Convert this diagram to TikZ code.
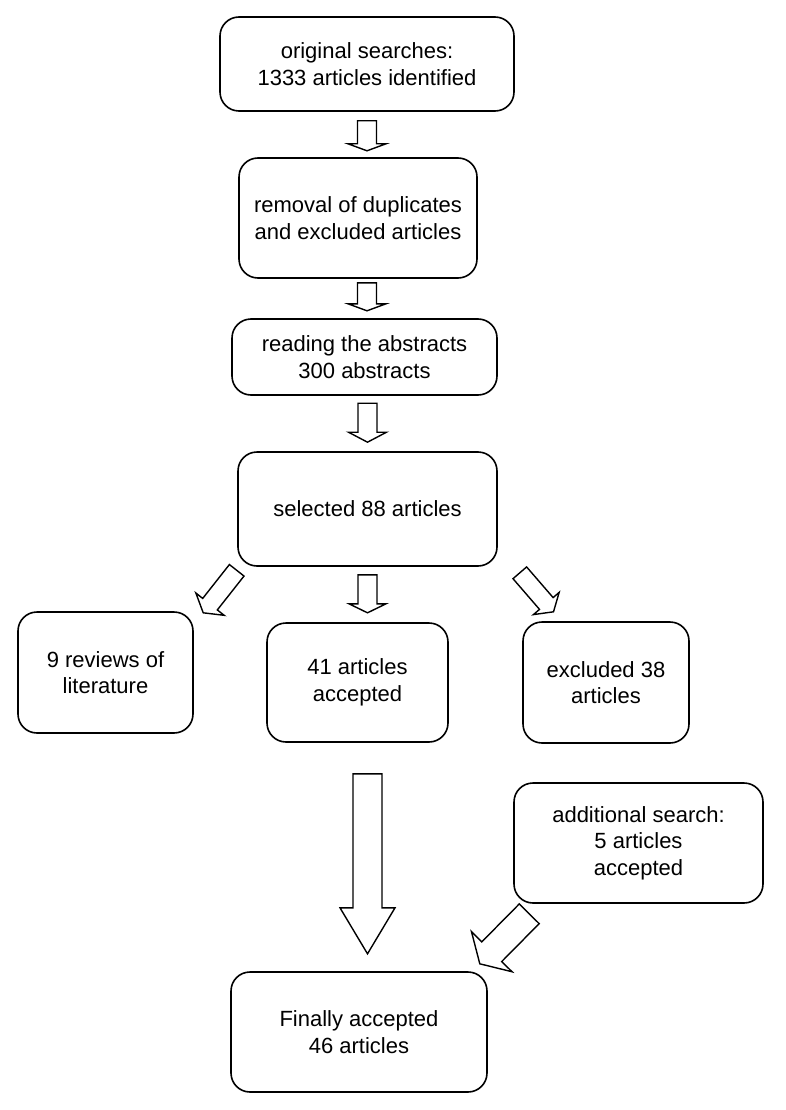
\documentclass[tikz,border=0pt]{standalone}
\usepackage{fontspec}
\setmainfont{Liberation Sans}
\usepackage{tikz}
\usetikzlibrary{calc}

% hollow block arrow: start, tip, shaft half width, head half width, head length
\newcommand{\blockarrow}[5]{%
  \coordinate (hb) at ($ (#2)!#5!(#1) $);
  \draw [flow] ($ (#1)!#3!90:(#2) $)
    -- ($ (hb)!#3!90:(#2) $)
    -- ($ (hb)!#4!90:(#2) $)
    -- (#2)
    -- ($ (hb)!#4!-90:(#2) $)
    -- ($ (hb)!#3!-90:(#2) $)
    -- ($ (#1)!#3!-90:(#2) $)
    -- cycle;
}

\begin{document}
\begin{tikzpicture}[x=1pt,y=-1pt,
stage/.style = {draw, line width=1.6pt, rounded corners=19pt, align=center,
  inner sep=0pt, font=\fontsize{22}{26.5}\selectfont},
flow/.style = {line width=1.4pt, fill=white}
]
\useasboundingbox (0,0) rectangle (785,1110);

\node [stage, minimum width=294, minimum height=94] (search) at (367,64)
  {original searches:\\1333 articles identified};
\node [stage, minimum width=238, minimum height=120] (dupes) at (358,218)
  {removal of duplicates\\and excluded articles};
\node [stage, minimum width=265, minimum height=76] (abstr) at (364.5,357)
  {reading the abstracts\\300 abstracts};
\node [stage, minimum width=259, minimum height=114] (sel) at (367.5,509)
  {selected 88 articles};
\node [stage, minimum width=175, minimum height=121] (rev) at (105.5,672.5)
  {9 reviews of\\literature};
\node [stage, minimum width=181, minimum height=119] (acc) at (357.5,682.5)
  {41 articles\\accepted};
\node [stage, minimum width=166, minimum height=121] (excl) at (606,682.5)
  {excluded 38\\articles};
\node [stage, minimum width=249, minimum height=120] (addl) at (638.5,843)
  {additional search:\\5 articles\\accepted};
\node [stage, minimum width=256, minimum height=120] (final) at (359,1032)
  {Finally accepted\\46 articles};

\coordinate (a1s) at ($ (search.south) + (0,9) $);
\coordinate (a1t) at ($ (search.south) + (0,39) $);
\coordinate (a2s) at ($ (dupes.south) + (9,4) $);
\coordinate (a2t) at ($ (dupes.south) + (9,32) $);
\coordinate (a3s) at ($ (sel.north) + (0,-48) $);
\coordinate (a3t) at ($ (sel.north) + (0,-9) $);
\coordinate (a4s) at ($ (sel.south) + (0,8) $);
\coordinate (a4t) at ($ (sel.south) + (0,46) $);
\coordinate (a5s) at ($ (sel.south west) + (-0.5,3.5) $);
\coordinate (a5t) at ($ (sel.south west) + (-34,46) $);
\coordinate (a6s) at ($ (sel.south east) + (22,6) $);
\coordinate (a6t) at ($ (sel.south east) + (55.7,45) $);
\coordinate (a7s) at ($ (acc.south) + (10,31) $);
\coordinate (a7t) at ($ (acc.south) + (10,211) $);
\coordinate (a8s) at ($ (addl.south west) + (16,10) $);
\coordinate (a8t) at ($ (addl.south west) + (-33.4,60) $);

\blockarrow{a1s}{a1t}{9.5pt}{19pt}{7pt}
\blockarrow{a2s}{a2t}{9.5pt}{19pt}{7pt}
\blockarrow{a3s}{a3t}{9.5pt}{19pt}{10pt}
\blockarrow{a4s}{a4t}{9.5pt}{18.5pt}{9pt}
\blockarrow{a5s}{a5t}{9.3pt}{18pt}{11pt}
\blockarrow{a6s}{a6t}{9pt}{17pt}{11pt}
\blockarrow{a7s}{a7t}{14.5pt}{27.5pt}{46pt}
\blockarrow{a8s}{a8t}{14pt}{28.5pt}{17pt}

\end{tikzpicture}
\end{document}
